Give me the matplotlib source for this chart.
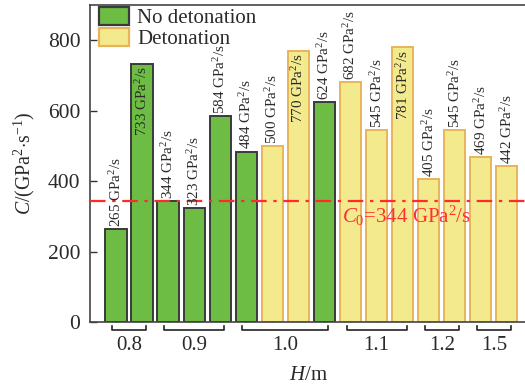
import matplotlib
matplotlib.use("Agg")
import matplotlib.pyplot as plt
import matplotlib.transforms as mtransforms
from matplotlib.patches import Patch

plt.rcParams['font.family'] = ['Liberation Serif', 'DejaVu Serif']
plt.rcParams['mathtext.fontset'] = 'custom'
plt.rcParams['mathtext.rm'] = 'Liberation Serif'
plt.rcParams['mathtext.it'] = 'Liberation Serif:italic'
plt.rcParams['text.color'] = '#2a2a2a'
plt.rcParams['ytick.labelcolor'] = '#2a2a2a'

values = [265, 733, 344, 323, 584, 484, 500, 770, 624, 682, 545, 781, 405, 545, 469, 442]
detonation = [False, False, False, False, False, False, True, True, False, True, True, True, True, True, True, True]
groups = ["0.8", "0.9", "1.0", "1.1", "1.2", "1.5"]
group_sizes = [2, 3, 4, 3, 2, 2]
inside_label = [False, True, False, False, False, False, False, True, False, False, False, True, False, False, False, False]
c0 = 344
yticks = [0, 200, 400, 600, 800]

green, green_edge = '#6dbd45', '#3a3a3a'
yellow, yellow_edge = '#f2ea8c', '#e8b45a'

fig = plt.figure(figsize=(5.25, 3.92), dpi=100)
ax = fig.add_axes([90/525, 1-322/392, 1-90/525+0.01, (322-5)/392])

x = list(range(len(values)))
for xi, v, d in zip(x, values, detonation):
    ax.bar(xi, v, width=0.82, color=yellow if d else green,
           edgecolor=yellow_edge if d else green_edge, linewidth=1.4, zorder=2)

for xi, v, ins in zip(x, values, inside_label):
    lab = f"{v} GPa$^2$/s"
    if ins:
        ax.text(xi, v - 8, lab, rotation=90, ha='center', va='top', fontsize=10.9, zorder=4)
    else:
        ax.text(xi, v + 6, lab, rotation=90, ha='center', va='bottom', fontsize=10.9, zorder=4)

ax.axhline(c0, color='#ff2a2a', linestyle='-.', linewidth=1.6, zorder=3, dashes=(7, 3, 1.5, 3))
ax.text(8.68, 300, r"$C_0$=344 GPa$^2$/s", color='#ff3030', fontsize=15, ha='left', va='center', zorder=4)

ax.set_xlim(-1.0, 15.9)
ax.set_ylim(0, 900)
ax.set_yticks(yticks)
ax.set_xticks(x)
ax.set_xticklabels([])
ax.tick_params(axis='x', direction='in', length=4, width=1, color='#333333')
ax.tick_params(axis='y', direction='in', length=5, width=1, color='#333333', labelsize=15.5, pad=7)
for s in ['left', 'bottom', 'top']:
    ax.spines[s].set_color('#444444')
    ax.spines[s].set_linewidth(1.2)
ax.spines['right'].set_visible(False)

trans = mtransforms.blended_transform_factory(ax.transData, ax.transAxes)
start = 0
for g, n in zip(groups, group_sizes):
    x0 = start - 0.15
    x1 = start + n - 1 + 0.15
    ax.plot([x0, x0, x1, x1], [-0.013, -0.026, -0.026, -0.013], transform=trans,
            color='#222222', linewidth=1.2, clip_on=False)
    ax.text((x0 + x1) / 2, -0.075, g, transform=trans, ha='center', va='center', fontsize=15)
    start += n

ax.text(0.497, -0.17, r"$H$/m", transform=ax.transAxes, ha='center', va='center', fontsize=15)
fig.text(24/525, 1-163/392, r"$C$/(GPa$^2$$\cdot$s$^{-1}$)", rotation=90, ha='center', va='center', fontsize=14.3)

handles = [Patch(facecolor=green, edgecolor=green_edge, linewidth=1.6, label='No detonation'),
           Patch(facecolor=yellow, edgecolor=yellow_edge, linewidth=1.6, label='Detonation')]
ax.legend(handles=handles, loc='upper left', frameon=False, fontsize=15, handlelength=1.45, handleheight=0.95,
          borderaxespad=0.0, labelspacing=0.0, handletextpad=0.4, borderpad=0.15,
          bbox_to_anchor=(0.013, 1.004))

fig.savefig("out.png", dpi=100)
